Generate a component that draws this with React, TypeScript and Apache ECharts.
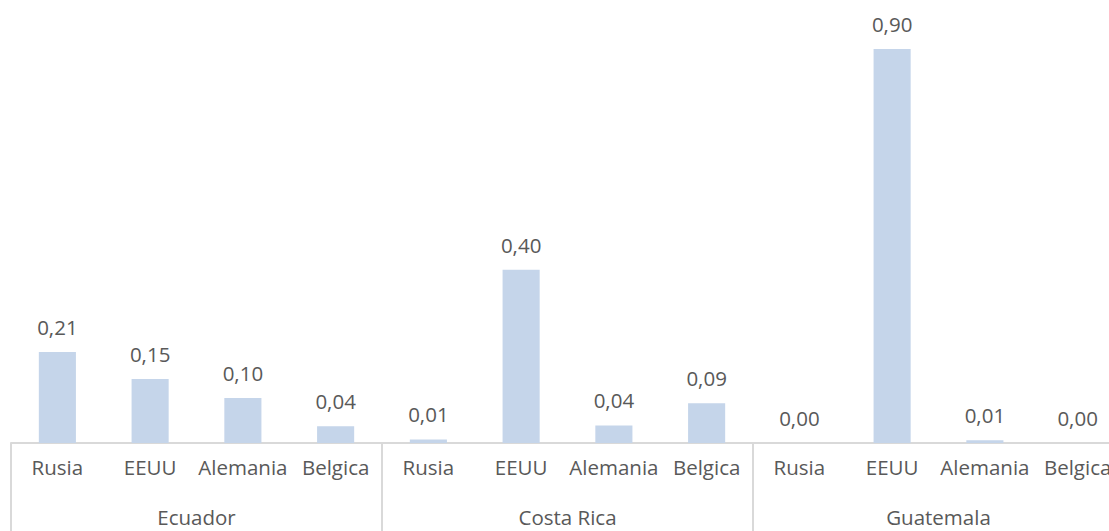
import React, { useEffect, useRef } from "react";
import * as echarts from "echarts";

const countries = ["Rusia", "EEUU", "Alemania", "Belgica"];
const groups = ["Ecuador", "Costa Rica", "Guatemala"];
const ecuadorValues = [0.208, 0.146, 0.103, 0.038];
const costaRicaValues = [0.008, 0.396, 0.04, 0.091];
const guatemalaValues = [0.0, 0.9, 0.006, 0.0];

const FONT = "Open Sans";
const TEXT = "#595959";
const GRID_LINE = "#d9d9d9";
const FS = 20.5;

export default function App() {
  const ref = useRef<HTMLDivElement>(null);
  useEffect(() => {
    if (!ref.current) return;
    const chart = echarts.init(ref.current, undefined, { renderer: "svg" });
    const categories = groups.flatMap(() => countries);
    const values = [...ecuadorValues, ...costaRicaValues, ...guatemalaValues];
    chart.setOption({
      animation: false,
      grid: {
        left: 11,
        top: 5.2,
        width: 1113,
        height: 437.8,
        containLabel: false,
        outerBoundsMode: "none",
      },
      xAxis: [
        {
          type: "category",
          data: categories,
          position: "bottom",
          axisLine: { show: true, lineStyle: { color: GRID_LINE, width: 2 } },
          axisTick: { show: false },
          axisLabel: {
            interval: 0,
            hideOverlap: false,
            color: TEXT,
            fontFamily: FONT,
            fontSize: FS,
            lineHeight: 20,
            margin: 14,
          },
        },
        {
          type: "category",
          data: groups,
          position: "bottom",
          axisLine: { show: false },
          axisTick: {
            show: true,
            interval: 0,
            length: 92,
            lineStyle: { color: GRID_LINE, width: 2 },
          },
          axisLabel: {
            interval: 0,
            color: TEXT,
            fontFamily: FONT,
            fontSize: FS,
            lineHeight: 20,
            margin: 64,
          },
        },
      ],
      yAxis: { type: "value", min: 0, max: 1, show: false },
      series: [
        {
          type: "bar",
          xAxisIndex: 0,
          data: values,
          barWidth: "40%",
          itemStyle: { color: "#C5D5EA" },
          label: {
            show: true,
            position: "top",
            distance: 15,
            color: TEXT,
            fontFamily: FONT,
            fontSize: FS,
            lineHeight: 20,
            formatter: (p: any) => Number(p.value).toFixed(2).replace(".", ","),
          },
        },
      ],
    });
    return () => chart.dispose();
  }, []);
  return (
    <div
      ref={ref}
      style={{ position: "fixed", left: 0, top: 0, width: 1109, height: 531, background: "#fff" }}
    />
  );
}
